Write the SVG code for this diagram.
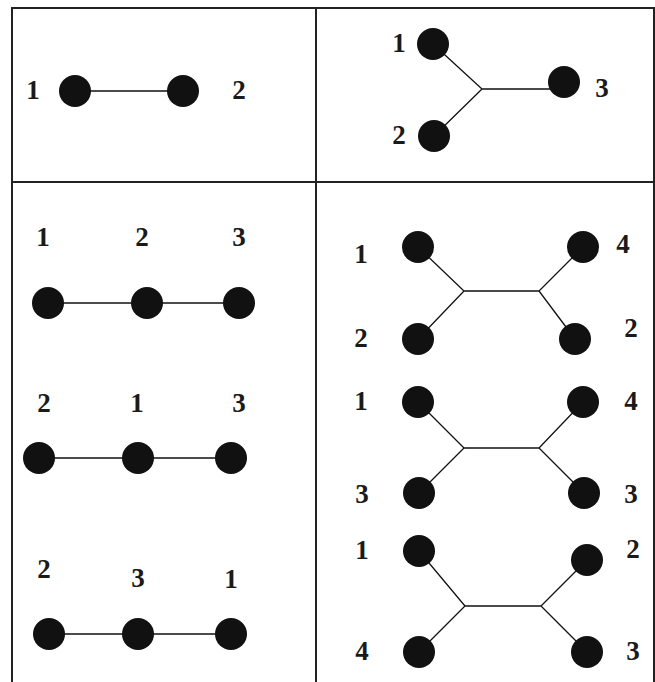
<svg xmlns="http://www.w3.org/2000/svg" width="655" height="682" viewBox="0 0 655 682">
<style>
.frame{stroke:#222;stroke-width:2;fill:none}
.e{stroke:#111;stroke-width:1.3;fill:none}
.n{fill:#111}
text{font-family:"Liberation Serif","Times New Roman",serif;font-weight:bold;font-size:27px;fill:#1a1a1a;text-anchor:middle}
</style>
<rect width="655" height="682" fill="#fff"/>
<g id="table">
<path class="frame" d="M12,682 V8 H654 V682"/>
<path class="frame" d="M316,8 V682"/>
<path class="frame" d="M11,182 H654"/>
</g>
<g id="connectors">
<line class="e" x1="75" y1="91" x2="183" y2="91"/>
<path class="e" d="M433,44 L482,89 L434,136 M482,89 H564"/>
<line class="e" x1="48" y1="303" x2="147" y2="303"/>
<line class="e" x1="147" y1="303" x2="239" y2="303" stroke-width="1.7"/>
<line class="e" x1="39" y1="458" x2="138" y2="458"/>
<line class="e" x1="138" y1="458" x2="231" y2="458" stroke-width="1.7"/>
<line class="e" x1="49" y1="634" x2="138" y2="634"/>
<line class="e" x1="138" y1="634" x2="231" y2="634" stroke-width="1.7"/>
<path class="e" d="M418,247 L464,291 L418,339 M464,291 H539 M583,247 L539,291 L575,339"/>
<path class="e" d="M418,402 L464,448 L419,493 M464,448 H539 M583,402 L539,448 L584,493"/>
<path class="e" d="M419,551 L465,606 L419,652 M465,606 H541 M587,560 L541,606 L587,652"/>
</g>
<g id="panel1" font-family="Liberation Serif, serif" font-weight="bold" font-size="27">
<circle class="n" cx="75" cy="91" r="16"/>
<circle class="n" cx="183" cy="91" r="16"/>
<text x="33" y="99">1</text>
<text x="239" y="99">2</text>
</g>
<g id="panel2" font-family="Liberation Serif, serif" font-weight="bold" font-size="27">
<circle class="n" cx="433" cy="44" r="16"/>
<circle class="n" cx="434" cy="136" r="16"/>
<circle class="n" cx="564" cy="82" r="16"/>
<text x="399" y="52">1</text>
<text x="399" y="144">2</text>
<text x="602" y="97">3</text>
</g>
<g id="chain1" font-family="Liberation Serif, serif" font-weight="bold" font-size="27">
<circle class="n" cx="48" cy="303" r="16"/>
<circle class="n" cx="147" cy="303" r="16"/>
<circle class="n" cx="239" cy="303" r="16"/>
<text x="43" y="246">1</text>
<text x="142" y="246">2</text>
<text x="239" y="246">3</text>
</g>
<g id="chain2" font-family="Liberation Serif, serif" font-weight="bold" font-size="27">
<circle class="n" cx="39" cy="458" r="16"/>
<circle class="n" cx="138" cy="458" r="16"/>
<circle class="n" cx="231" cy="458" r="16"/>
<text x="44" y="412">2</text>
<text x="137" y="412">1</text>
<text x="239" y="412">3</text>
</g>
<g id="chain3" font-family="Liberation Serif, serif" font-weight="bold" font-size="27">
<circle class="n" cx="49" cy="634" r="16"/>
<circle class="n" cx="138" cy="634" r="16"/>
<circle class="n" cx="231" cy="634" r="16"/>
<text x="44" y="578">2</text>
<text x="138" y="587">3</text>
<text x="231" y="588">1</text>
</g>
<g id="tree1" font-family="Liberation Serif, serif" font-weight="bold" font-size="27">
<circle class="n" cx="418" cy="247" r="16"/>
<circle class="n" cx="418" cy="339" r="16"/>
<circle class="n" cx="583" cy="247" r="16"/>
<circle class="n" cx="575" cy="339" r="16"/>
<text x="361" y="263">1</text>
<text x="361" y="347">2</text>
<text x="623" y="253">4</text>
<text x="631" y="337">2</text>
</g>
<g id="tree2" font-family="Liberation Serif, serif" font-weight="bold" font-size="27">
<circle class="n" cx="418" cy="402" r="16"/>
<circle class="n" cx="419" cy="493" r="16"/>
<circle class="n" cx="583" cy="402" r="16"/>
<circle class="n" cx="584" cy="493" r="16"/>
<text x="361" y="410">1</text>
<text x="362" y="503">3</text>
<text x="631" y="410">4</text>
<text x="631" y="503">3</text>
</g>
<g id="tree3" font-family="Liberation Serif, serif" font-weight="bold" font-size="27">
<circle class="n" cx="419" cy="551" r="16"/>
<circle class="n" cx="419" cy="652" r="16"/>
<circle class="n" cx="587" cy="560" r="16"/>
<circle class="n" cx="587" cy="652" r="16"/>
<text x="362" y="559">1</text>
<text x="362" y="660">4</text>
<text x="633" y="558">2</text>
<text x="633" y="660">3</text>
</g>
</svg>
